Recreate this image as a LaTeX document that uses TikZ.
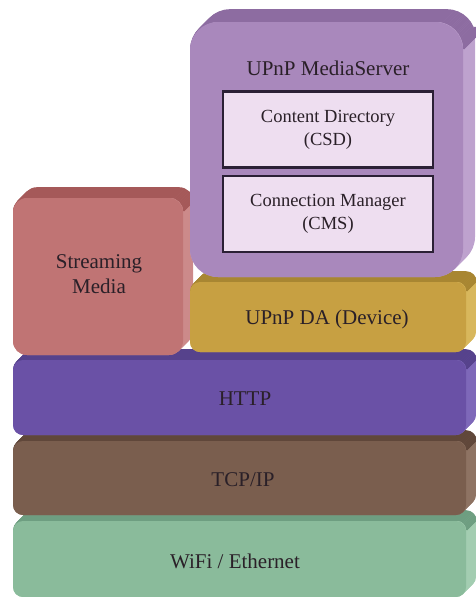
\documentclass[tikz,border=0pt]{standalone}
\usepackage{fontspec}
\setmainfont{Liberation Serif}

% face colours of the stacked blocks: front, top bevel, right side
\definecolor{msfront}{HTML}{A988BC}
\definecolor{mstop}{HTML}{8D6CA1}
\definecolor{msside}{HTML}{BEA2CE}
\definecolor{smfront}{HTML}{C07474}
\definecolor{smtop}{HTML}{A55959}
\definecolor{smside}{HTML}{CC8A8A}
\definecolor{dafront}{HTML}{C7A042}
\definecolor{datop}{HTML}{A88632}
\definecolor{daside}{HTML}{D8B75C}
\definecolor{htfront}{HTML}{6A51A6}
\definecolor{httop}{HTML}{56428C}
\definecolor{htside}{HTML}{7E68B9}
\definecolor{tcfront}{HTML}{7A5E4E}
\definecolor{tctop}{HTML}{60473A}
\definecolor{tcside}{HTML}{8E7363}
\definecolor{wffront}{HTML}{8ABB9B}
\definecolor{wftop}{HTML}{6E9E81}
\definecolor{wfside}{HTML}{A3CDB1}
\definecolor{innerfill}{HTML}{EEDEF0}
\definecolor{innerline}{HTML}{2B2035}
\definecolor{labelink}{HTML}{2A2028}

\tikzset{
  layerlabel/.style={text=labelink, font=\fontsize{21}{25}\selectfont, align=center, inner sep=0pt},
  servicebox/.style={draw=innerline, line width=2.4pt, fill=innerfill, text=labelink,
    font=\fontsize{18.5}{23}\selectfont, align=center, minimum width=210pt, minimum height=76pt, inner sep=0pt},
}

% extruded rounded block: front face (#1,#2)-(#3,#4), depth #5, corner radius #6, colour prefix #7
\newcommand{\layerblock}[7]{%
  \foreach \t in {0,...,#5}{%
    \fill[#7side, rounded corners=#6] (#1+\t,#2-\t) rectangle (#3+\t,#4-\t);
  }%
  \foreach \t in {1,...,#5}{%
    \draw[#7top, line width=1.6pt, rounded corners=#6]
      (#1+\t,#2+#6+4-\t) -- (#1+\t,#2-\t) -- (#3+\t,#2-\t) -- (#3+\t,#2+#6*0.6-\t);
  }%
  \fill[#7front, rounded corners=#6] (#1,#2) rectangle (#3,#4);
}

\begin{document}
\begin{tikzpicture}[x=1pt,y=-1pt]
\useasboundingbox (0,0) rectangle (475,597);

% protocol stack, bottom layer first
\layerblock{13}{521}{466}{597}{10}{10}{wf}
\layerblock{13}{441}{466}{515}{10}{10}{tc}
\layerblock{13}{360}{466}{435}{10}{10}{ht}
\layerblock{13}{198}{183}{355}{10}{14}{sm}
\layerblock{190}{282}{466}{352}{10}{10}{da}
\layerblock{190}{22}{463}{277}{12}{28}{ms}

% labels
\node[layerlabel] (wifi) at (235,561) {WiFi / Ethernet};
\node[layerlabel] (tcpip) at (243,480) {TCP/IP};
\node[layerlabel] (http) at (245,399) {HTTP};
\node[layerlabel] (stream) at (99,274) {Streaming\\Media};
\node[layerlabel] (upnpda) at (327,319) {UPnP DA (Device)};
\node[layerlabel] (mserver) at (328,68) {UPnP MediaServer};

% services of the media server
\node[servicebox] (csd) at (328,129.5) {Content Directory\\(CSD)};
\node[servicebox] (cms) at (328,214) {Connection Manager\\(CMS)};
\end{tikzpicture}
\end{document}
